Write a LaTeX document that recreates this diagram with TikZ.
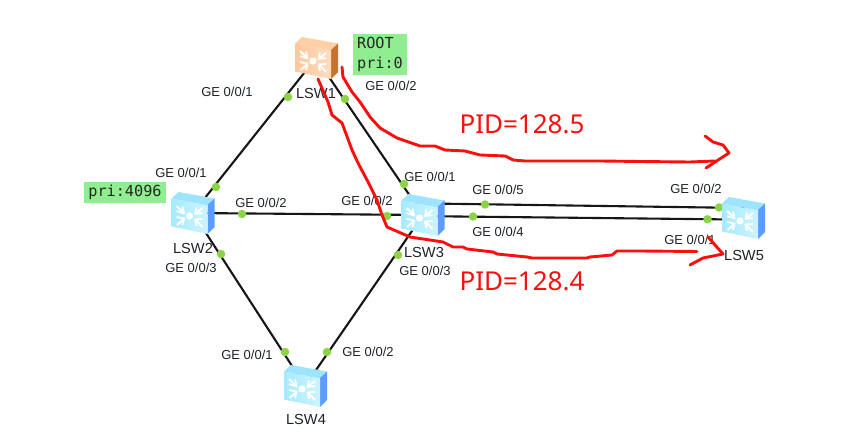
\documentclass[tikz,border=0pt]{standalone}
\usepackage{fontspec}
\setmainfont{Liberation Sans}
\newfontfamily\monofam{DejaVu Sans Mono}
\newfontfamily\pidfam{Noto Sans}
\definecolor{portgreen}{HTML}{8CD346}
\definecolor{tagbg}{HTML}{90EE90}
\definecolor{inkred}{HTML}{F8100C}
\definecolor{linkblack}{HTML}{161616}
\definecolor{labelink}{HTML}{1E232B}
\definecolor{blueA}{HTML}{A6EAFF}
\definecolor{blueB}{HTML}{CDF4FF}
\definecolor{blueT}{HTML}{9FE4FF}
\definecolor{blueS}{HTML}{5C9DFF}
\definecolor{orngA}{HTML}{FFC79C}
\definecolor{orngB}{HTML}{FFDCC0}
\definecolor{orngT}{HTML}{FFCFA6}
\definecolor{orngS}{HTML}{C9742B}
\tikzset{
  x=1pt,y=-1pt,
  link/.style={draw=linkblack,line width=2.1pt},
  portdot/.style={circle,fill=portgreen,inner sep=0pt,minimum size=8.5pt},
  port/.style={font=\fontsize{13}{15}\selectfont,text=labelink,inner sep=0pt},
  swname/.style={font=\fontsize{14.6}{17}\selectfont,text=labelink,inner sep=0pt},
  tag/.style={fill=tagbg,font=\monofam\fontsize{15.2}{20}\selectfont,text=black!85,inner sep=0pt,align=left},
  pid/.style={font=\pidfam\fontsize{26}{30}\selectfont,text=inkred,inner sep=0pt},
  redink/.style={draw=inkred,line width=2.9pt,line join=round,line cap=round},
  hub/.style={inner sep=0pt,minimum size=2pt},
}
% switch icon: #1 origin, #2 front light, #3 front dark, #4 top, #5 side
\newcommand{\swicon}[5]{%
\begin{scope}[shift={(#1)}]
  \fill[#4] (0,6.5) -- (7,0) -- (43,6.5) -- (36,13.5) -- cycle;
  \fill[#5] (36,13) -- (43,6.5) -- (43,35) -- (36,42) -- cycle;
  \shade[left color=#2,right color=#3] (0,6.5) -- (36,13.5) -- (36,42) -- (0,34.5) -- cycle;
  \fill[white] (18,24) circle (3.6);
  \foreach \a/\b/\c/\d in {12/20.5/5/14, 24/21.5/31/16, 12.5/27/5.5/33, 24/27.5/31/35}{
    \draw[white,line width=2pt] (\a,\b) -- (\c,\d);
  }
  \draw[white,line width=1.8pt,line join=round] (5,19) -- (12.5,21.5) -- (11,14.5);
  \draw[white,line width=1.8pt,line join=round] (31,21) -- (23.5,22) -- (25,15.5);
  \draw[white,line width=1.8pt,line join=round] (5,25) -- (12.5,26.5) -- (11,33);
  \draw[white,line width=1.8pt,line join=round] (31,27) -- (23.5,27.5) -- (25,34);
\end{scope}}
\begin{document}
\begin{tikzpicture}
\useasboundingbox (0,0) rectangle (850,446);
\fill[white] (0,0) rectangle (850,446);
% hubs (centres of the switches)
\node[hub] (sw1) at (316,58) {};
\node[hub] (sw2) at (193,213) {};
\node[hub] (sw3) at (423,215) {};
\node[hub] (sw4) at (305,386) {};
\node[hub] (sw5) at (744,219) {};
\coordinate (sw3a) at (430,203.5);
\coordinate (sw3b) at (430,216.2);
\coordinate (sw5a) at (744,208);
\coordinate (sw5b) at (744,219.6);
% links
\draw[link] (sw1) -- (sw2);
\draw[link] (sw1) -- (sw3);
\draw[link] (sw2) -- (sw3);
\draw[link] (sw2) -- (sw4);
\draw[link] (sw3) -- (sw4);
\draw[link] (sw3a) -- (sw5a);
\draw[link] (sw3b) -- (sw5b);
% port dots
\foreach \n/\p in {d1/{288,97},d2/{345,99},d3/{216,187},d4/{404,184},d5/{242,214},d6/{387,216},
  d7/{485,204.5},d8/{473,216.5},d9/{719,207.5},d10/{707.5,219.3},d11/{221,254},d12/{398,255},d13/{285,352},d14/{327,352}}
  \node[portdot] (\n) at (\p) {};
% icons
\swicon{295,37}{orngA}{orngB}{orngT}{orngS}
\swicon{171.5,192}{blueA}{blueB}{blueT}{blueS}
\swicon{401.5,194}{blueA}{blueB}{blueT}{blueS}
\swicon{284,365}{blueA}{blueB}{blueT}{blueS}
\swicon{722,197}{blueA}{blueB}{blueT}{blueS}
% switch names
\node[swname] (n1) at (316,93) {LSW1};
\node[swname] (n2) at (193,248.5) {LSW2};
\node[swname] (n3) at (424,252) {LSW3};
\node[swname] (n4) at (306,419) {LSW4};
\node[swname] (n5) at (744,255) {LSW5};
% tags
\node[tag,minimum width=53.5pt,minimum height=41pt] (t1) at (380,54.5) {ROOT\\pri:0};
\node[tag,minimum width=81.5pt,minimum height=21pt] (t2) at (125,192.5) {pri:4096};
% port labels
\foreach \n/\p/\t in {
  l1/{227,92}/GE 0{/}0{/}1, l2/{391,86}/GE 0{/}0{/}2, l3/{181,173}/GE 0{/}0{/}1, l4/{261,203}/GE 0{/}0{/}2,
  l5/{191,268}/GE 0{/}0{/}3, l6/{430,176.5}/GE 0{/}0{/}1, l7/{367,201}/GE 0{/}0{/}2, l8/{498,189.5}/GE 0{/}0{/}5,
  l9/{498,232}/GE 0{/}0{/}4, l10/{425,271}/GE 0{/}0{/}3, l11/{696,189}/GE 0{/}0{/}2, l12/{690,240}/GE 0{/}0{/}1,
  l13/{247,355}/GE 0{/}0{/}1, l14/{368,352}/GE 0{/}0{/}2}
  \node[port] (\n) at (\p) {\t};
% PID
\node[pid] (p1) at (522,124) {PID=128.5};
\node[pid] (p2) at (522,281) {PID=128.4};
% red strokes
\draw[redink] (342,67) -- (343,77) -- (352,92) -- (360,102) -- (370,117) -- (380,128) -- (397,138) -- (420,146) -- (435,146) -- (445,150) -- (465,151) -- (480,155) -- (505,156) -- (513,160) -- (525,161) -- (600,161) -- (640,161.5) -- (690,162) -- (715,161);
\draw[redink] (706,168) -- (715,162) -- (729,153) -- (723,145) -- (713,142) -- (705,136);
\draw[redink] (318,79) -- (328,102) -- (332,115) -- (342,123) -- (352,150) -- (358,163) -- (367,180) -- (377,200) -- (382,215) -- (387,227) -- (410,237) -- (443,242) -- (453,247) -- (463,247) -- (467,249) -- (493,252) -- (497,254) -- (527,257) -- (532,258) -- (587,258) -- (590,257) -- (612,255) -- (617,251) -- (640,251) -- (697,251.5);
\draw[redink] (690,265) -- (703,258) -- (723,254) -- (715,245) -- (708,237);
\end{tikzpicture}
\end{document}
